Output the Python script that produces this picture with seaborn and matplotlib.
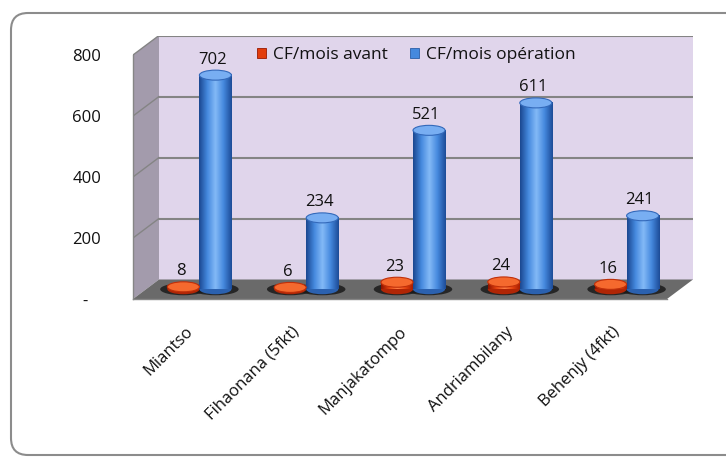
import numpy as np
import pandas as pd
import matplotlib
matplotlib.use("Agg")
import matplotlib.pyplot as plt
import seaborn as sns
from matplotlib.patches import Polygon, Rectangle, Ellipse, FancyBboxPatch, Patch
from matplotlib.colors import LinearSegmentedColormap
from matplotlib.transforms import ScaledTranslation, IdentityTransform

# data
sites = ["Miantso", "Fihaonana (5fkt)", "Manjakatompo", "Andriambilany", "Behenjy (4fkt)"]
cf_avant = [8, 6, 23, 24, 16]
cf_operation = [702, 234, 521, 611, 241]
series = ["CF/mois avant", "CF/mois opération"]
yticks = [0, 200, 400, 600, 800]
ytick_labels = ["-   ", "200", "400", "600", "800"]

df = pd.DataFrame({
    "site": sites * 2,
    "serie": [series[0]] * len(sites) + [series[1]] * len(sites),
    "cf": cf_avant + cf_operation,
})

sns.set_style("white")
plt.rcParams["font.family"] = ["Open Sans", "DejaVu Sans"]
FS = 12
TXT = "#111111"

W, H = 726, 457
fig = plt.figure(figsize=(W / 100, H / 100), dpi=100)

# front plane in pixels: x 133..667, 0 at y=299, 800 at y=55 ; depth offset 26px right, 19.5px up
px_cat = (667 - 133) / 5
px_val = (299 - 55) / 800
dep_x, dep_y = 26, 19.5
ddx, ddy = dep_x / px_cat, dep_y / px_val
x_right = 4.5 + ddx
y_top = 800 + ddy
ax_w = (x_right + 0.5) * px_cat
ax_h = y_top * px_val
ax = fig.add_axes([133 / W, 1 - 299 / H, ax_w / W, ax_h / H])
ax.set_facecolor("none")

# outer rounded frame
frame = FancyBboxPatch((11, 2), 760, 442, boxstyle="round,pad=0,rounding_size=17",
                       transform=IdentityTransform(), facecolor="white",
                       edgecolor="#8c8c8c", linewidth=1.5, zorder=-10)
fig.patches.append(frame)

# walls and floor
ax.add_patch(Rectangle((-0.5 + ddx, ddy), 5, 800, facecolor="#e0d5eb", edgecolor="none", zorder=0))
ax.add_patch(Polygon([(-0.5, 0), (-0.5 + ddx, ddy), (-0.5 + ddx, 800 + ddy), (-0.5, 800)],
                     facecolor="#a39bac", edgecolor="none", zorder=0))
ax.add_patch(Polygon([(-0.5, 0), (4.5, 0), (4.5 + ddx, ddy), (-0.5 + ddx, ddy)],
                     facecolor="#6a6a6a", edgecolor="none", zorder=0.5))
for v in yticks[1:]:
    ax.plot([-0.5 + ddx, 4.5 + ddx], [v + ddy, v + ddy], color="#848484", lw=1.5, zorder=1)
    ax.plot([-0.5, -0.5 + ddx], [v, v + ddy], color="#848484", lw=1.0, zorder=1)

blue, red = "#4589de", "#e23d0c"
sns.barplot(data=df, x="site", y="cf", hue="serie", palette=[red, blue], width=0.6,
            saturation=1, errorbar=None, ax=ax, zorder=3, edgecolor="none")

shift = ax.transData + ScaledTranslation(dep_x / 200, dep_y / 200, fig.dpi_scale_trans)
cmaps = [
    LinearSegmentedColormap.from_list("r", ["#8e1400", "#e4420f", "#ff7e45", "#e4420f", "#a01800"]),
    LinearSegmentedColormap.from_list("b", ["#1b4891", "#4589de", "#84baf7", "#4589de", "#1d4c98"]),
]
tops = [("#f5692e", "#c0300a"), ("#78aef2", "#3369ba")]
ell_h = 10 / px_val

for k, cont in enumerate(ax.containers):
    for bar in cont:
        x0, w, h = bar.get_x(), bar.get_width(), bar.get_height()
        cx = x0 + w / 2
        bar.set_transform(shift)
        ax.add_patch(Ellipse((cx, 0), w * 1.45, ell_h * 1.2, facecolor="#1a1a1a",
                             edgecolor="none", alpha=0.85, transform=shift, zorder=2))
        ax.add_patch(Ellipse((cx, 0), w, ell_h, facecolor=cmaps[k](0.1),
                             edgecolor="none", transform=shift, zorder=3))
        grad = np.linspace(0, 1, 64)[None, :]
        ax.imshow(grad, cmap=cmaps[k], extent=[x0, x0 + w, 0, h], aspect="auto",
                  transform=shift, zorder=3.2, interpolation="bilinear")
        ax.add_patch(Ellipse((cx, h), w, ell_h, facecolor=tops[k][0], edgecolor=tops[k][1],
                             linewidth=0.8, transform=shift, zorder=4))
        ax.annotate(f"{h:.0f}", (cx, h), xycoords=shift, xytext=(-2, 5.5),
                    textcoords="offset points", ha="center", va="bottom",
                    fontsize=FS, color=TXT, zorder=6)

ax.set_xlim(-0.5, x_right)
ax.set_ylim(0, y_top)

# axes, ticks
for s in ["top", "right"]:
    ax.spines[s].set_visible(False)
for s in ["left", "bottom"]:
    ax.spines[s].set_color("#868686")
    ax.spines[s].set_linewidth(1.0)
    ax.spines[s].set_zorder(5)
ax.spines["left"].set_bounds(0, 800)
ax.spines["bottom"].set_bounds(-0.5, 4.5)

ax.set_yticks(yticks)
ax.set_yticklabels(ytick_labels)
ax.tick_params(axis="y", length=4, color="#868686", pad=19, labelsize=FS, labelcolor=TXT)
ax.set_xticks(range(len(sites)))
ax.set_xticklabels(sites, rotation=45, ha="right", va="center", rotation_mode="anchor")
ax.set_xticks(np.arange(-0.5, 5, 1), minor=True)
ax.tick_params(axis="x", which="major", length=0, pad=22, labelsize=FS, labelcolor=TXT)
ax.tick_params(axis="x", which="minor", length=4, color="#868686")
for lab in ax.get_xticklabels():
    lab.set_transform(lab.get_transform() + ScaledTranslation(0.04, 0, fig.dpi_scale_trans))
ax.set_xlabel("")
ax.set_ylabel("")

handles = [Patch(facecolor=red, edgecolor="#9a1a00", linewidth=0.6),
           Patch(facecolor=blue, edgecolor="#2a5ea8", linewidth=0.6)]
ax.legend(handles, series, loc="center left", bbox_to_anchor=(257 / W, 1 - 55 / H),
          bbox_transform=fig.transFigure, ncol=2, frameon=False, borderaxespad=0,
          borderpad=0, handlelength=0.5, handleheight=0.5, handletextpad=0.4,
          columnspacing=1.3, fontsize=12.5, labelcolor=TXT)

fig.savefig("out.png", dpi=100)
